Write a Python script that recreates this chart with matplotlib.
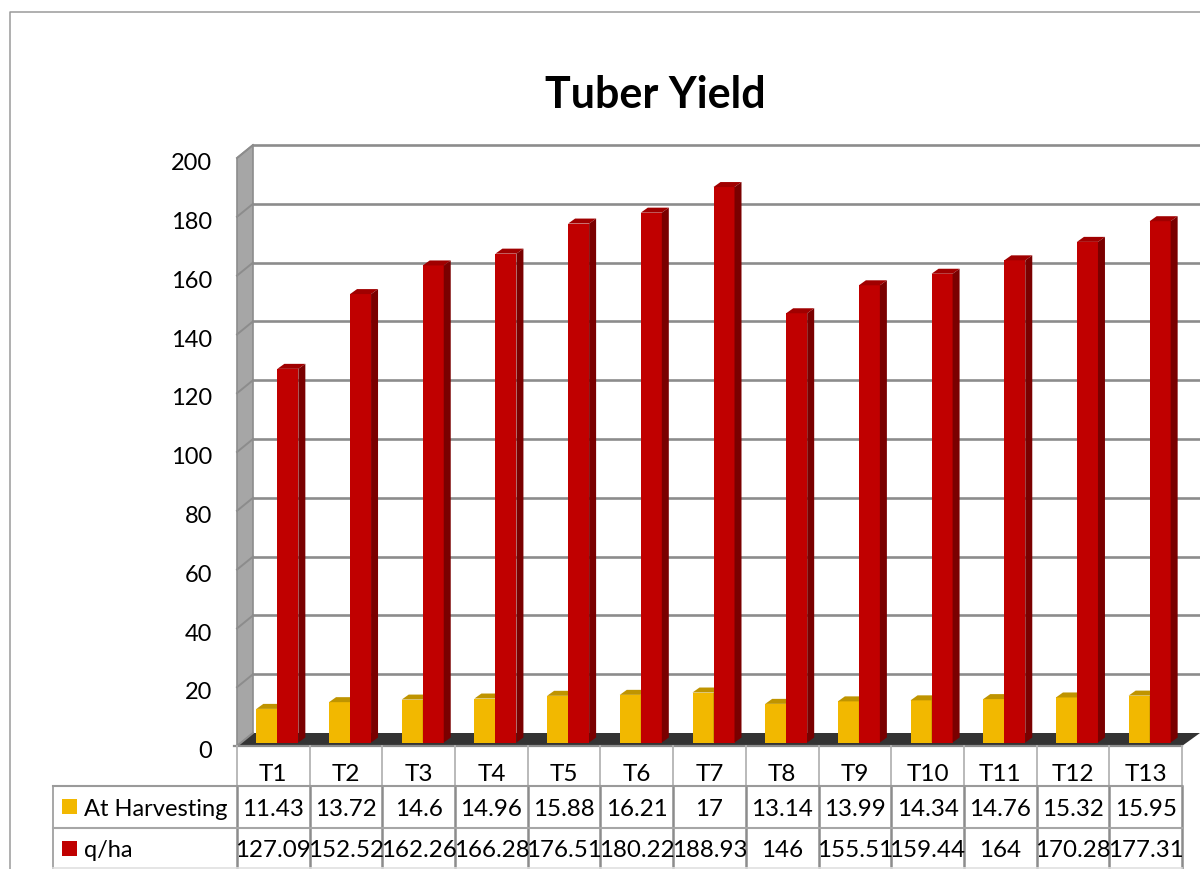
import matplotlib
matplotlib.use("Agg")
import matplotlib.pyplot as plt
from matplotlib.patches import Polygon
from matplotlib.transforms import ScaledTranslation

categories = ["T1", "T2", "T3", "T4", "T5", "T6", "T7", "T8", "T9", "T10", "T11", "T12", "T13"]
harvest = [11.43, 13.72, 14.6, 14.96, 15.88, 16.21, 17, 13.14, 13.99, 14.34, 14.76, 15.32, 15.95]
q_ha = [127.09, 152.52, 162.26, 166.28, 176.51, 180.22, 188.93, 146, 155.51, 159.44, 164, 170.28, 177.31]
yticks = [0, 20, 40, 60, 80, 100, 120, 140, 160, 180, 200]

W, H = 1200, 870
# front plane of the 3d box, in pixels
LEFT, RIGHT, TOP, BOTTOM = 237, 1182, 159, 747
DEPTH_X, DEPTH_Y = 16, 13
GRAY = "#8c8c8c"

plt.rcParams["font.family"] = ["Lato", "DejaVu Sans"]

fig = plt.figure(figsize=(W / 100, H / 100), dpi=100)

# background axes in pixel coordinates: frame, walls, table
bg = fig.add_axes([0, 0, 1, 1])
bg.set_xlim(0, W)
bg.set_ylim(H, 0)
bg.axis("off")

ax = fig.add_axes([LEFT / W, 1 - BOTTOM / H, (RIGHT - LEFT) / W, (BOTTOM - TOP) / H])
ax.set_xlim(-0.5, len(categories) - 0.5)
ax.set_ylim(0, 200)
ax.patch.set_alpha(0)
for s in ax.spines.values():
    s.set_visible(False)

px_x = len(categories) / (RIGHT - LEFT)
px_y = 200 / (BOTTOM - TOP)
step = (RIGHT - LEFT) / len(categories)


def y_px(v):
    return BOTTOM - v / px_y


# outer chart frame
bg.plot([10, 10, W], [H, 13, 13], color="#9a9a9a", lw=1.1)

# walls and floor
bg.add_patch(Polygon([(LEFT, TOP), (LEFT + DEPTH_X, TOP - DEPTH_Y),
                      (LEFT + DEPTH_X, BOTTOM - DEPTH_Y), (LEFT, BOTTOM)],
                     facecolor="#a6a6a6", edgecolor=GRAY, lw=1.2))
for v in yticks:
    y = y_px(v)
    bg.plot([LEFT, LEFT + DEPTH_X], [y, y - DEPTH_Y], color=GRAY, lw=1.4)
    if v > 0:
        bg.plot([LEFT + DEPTH_X, W], [y - DEPTH_Y, y - DEPTH_Y], color=GRAY, lw=1.9)
bg.add_patch(Polygon([(LEFT, BOTTOM), (LEFT + DEPTH_X, BOTTOM - DEPTH_Y),
                      (W, BOTTOM - DEPTH_Y), (RIGHT, BOTTOM)],
                     facecolor="#333333", edgecolor="none"))
bg.plot([LEFT - 3, RIGHT], [BOTTOM, BOTTOM], color=GRAY, lw=1.6)

# bars
width = 21 * px_x
base = 3.5 * px_y
shift = 4 * px_x
dx, dy = 7 * px_x, 5 * px_y


def bar3d(x, v, front, top, side):
    ax.bar(x, v, width, bottom=base, align="edge", color=front, linewidth=0)
    h = v + base
    ax.add_patch(Polygon([(x, h), (x + dx, h + dy), (x + width + dx, h + dy), (x + width, h)],
                         facecolor=top, edgecolor="none"))
    ax.add_patch(Polygon([(x + width, base), (x + width + dx, base + dy),
                          (x + width + dx, h + dy), (x + width, h)],
                         facecolor=side, edgecolor="none"))


for i in range(len(categories)):
    x0 = i + shift - width
    bar3d(x0, harvest[i], "#f2b800", "#bf9400", "#a88200")
    bar3d(x0 + width, q_ha[i], "#c00000", "#a00000", "#7a0000")

# axis labels
ax.set_yticks(yticks)
ax.tick_params(axis="y", length=0, pad=18, labelsize=17, colors="black")
nudge = ScaledTranslation(0, -2 / 72, fig.dpi_scale_trans)
for lab in ax.get_yticklabels():
    lab.set_transform(lab.get_transform() + nudge)
ax.set_xticks(range(len(categories)))
ax.set_xticklabels(categories)
ax.tick_params(axis="x", length=0, pad=12, labelsize=17.5, colors="black")

# data table
HEAD_Y, ROW1_Y, ROW2_Y, TABLE_END = 787, 829, 869, 870
LABEL_X = 53
for i in range(len(categories) + 1):
    x = LEFT + i * step
    bg.plot([x, x], [BOTTOM, HEAD_Y], color="#b4b4b4", lw=1.3)
    bg.plot([x, x], [HEAD_Y, TABLE_END], color=GRAY, lw=1.8)
bg.plot([LABEL_X, LABEL_X], [HEAD_Y, TABLE_END], color="#a0a0a0", lw=1.3)
bg.plot([LABEL_X, RIGHT], [HEAD_Y, HEAD_Y], color="#9a9a9a", lw=1.5)
bg.plot([LABEL_X, RIGHT], [ROW1_Y, ROW1_Y], color="#a6a6a6", lw=1.5)
bg.plot([LABEL_X, RIGHT], [ROW2_Y, ROW2_Y], color="#e0e0e0", lw=1.2)

for i in range(len(categories)):
    x = LEFT + (i + 0.5) * step
    bg.text(x, 810, f"{harvest[i]:g}", ha="center", va="center", fontsize=17.4)
    bg.text(x, 851, f"{q_ha[i]:g}", ha="center", va="center", fontsize=17.4)

bg.fill_between([62, 77], 800, 815, color="#f2b800", linewidth=0)
bg.fill_between([62, 77], 842, 857, color="#c00000", linewidth=0)
bg.text(84, 810, "At Harvesting", ha="left", va="center", fontsize=17)
bg.text(84, 851, "q/ha", ha="left", va="center", fontsize=17)

bg.text(655, 95, "Tuber Yield", ha="center", va="center", fontsize=31, fontweight="bold")

fig.savefig("out.png", dpi=100)
